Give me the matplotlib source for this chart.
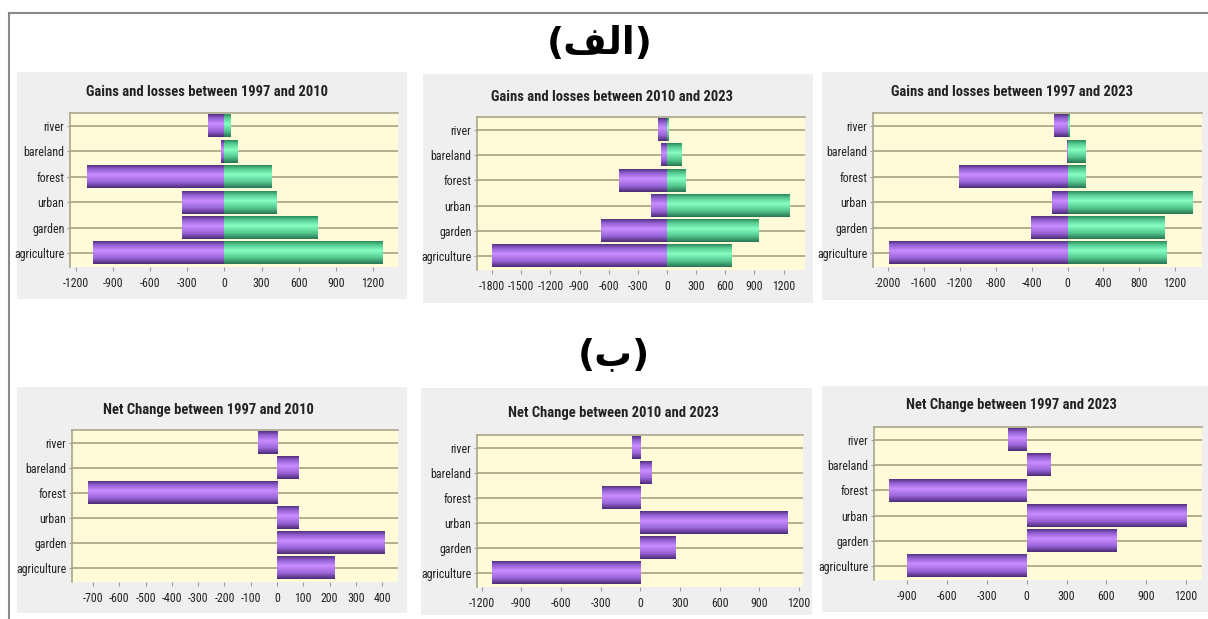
import numpy as np
import matplotlib
matplotlib.use('Agg')
import matplotlib.pyplot as plt
from matplotlib import font_manager
from matplotlib.colors import LinearSegmentedColormap
from matplotlib.patches import Rectangle
from matplotlib.lines import Line2D
from matplotlib.transforms import Bbox, TransformedBbox

# prefer a narrow face for the labels
installed = {f.name for f in font_manager.fontManager.ttflist}
narrow = next((n for n in ['Liberation Sans Narrow', 'Roboto Condensed', 'Open Sans Condensed',
                           'Noto Sans Condensed', 'Roboto', 'Liberation Sans'] if n in installed),
              'DejaVu Sans')
plt.rcParams['font.family'] = [narrow, 'DejaVu Sans']
plt.rcParams['axes.unicode_minus'] = False

# land-use classes, bottom to top
categories = ['agriculture', 'garden', 'urban', 'forest', 'bareland', 'river']

gains_97_10 = [1275, 757, 424, 384, 107, 54]
losses_97_10 = [-1060, -344, -344, -1109, -27, -129]
gains_10_23 = [665, 943, 1258, 189, 151, 14]
losses_10_23 = [-1800, -679, -165, -490, -62, -89]
gains_97_23 = [1097, 1075, 1384, 190, 190, 15]
losses_97_23 = [-1996, -403, -175, -1216, -7, -149]

net_97_10 = [218, 410, 83, -719, 83, -73]
net_10_23 = [-1123, 270, 1112, -292, 90, -62]
net_97_23 = [-903, 677, 1200, -1034, 174, -141]

W, H = 1208, 619
fig = plt.figure(figsize=(W / 100, H / 100), dpi=100)
fig.patch.set_facecolor('white')


def fig_box(x0, y0, x1, y1):
    # pixel box (top-left origin) -> figure fraction [left, bottom, width, height]
    return [x0 / W, 1 - y1 / H, (x1 - x0) / W, (y1 - y0) / H]


purple = LinearSegmentedColormap.from_list(
    'purple', [(0, '#55307f'), (0.15, '#8d5ccc'), (0.42, '#c98dff'),
               (0.75, '#9864d6'), (1, '#4c2a74')])
green = LinearSegmentedColormap.from_list(
    'green', [(0, '#2a8a5c'), (0.15, '#55c98f'), (0.42, '#86ffc4'),
              (0.75, '#52c48c'), (1, '#287552')])
shade = np.linspace(0, 1, 64).reshape(-1, 1)


def shaded_barh(ax, values, cmap):
    bars = ax.barh(np.arange(len(values)), values, height=0.9,
                   color='none', linewidth=0)
    for b in bars:
        x, y, w, h = b.get_x(), b.get_y(), b.get_width(), b.get_height()
        ax.imshow(shade, cmap=cmap, aspect='auto', interpolation='bilinear',
                  extent=(x, x + w, y, y + h), zorder=2)


def panel(gray, box, title_xy, title, series, xlim, xticks):
    gx = fig_box(*gray)
    fig.add_artist(Rectangle((gx[0], gx[1]), gx[2], gx[3], transform=fig.transFigure,
                             facecolor='#efefef', edgecolor='none', zorder=-1))
    ax = fig.add_axes(fig_box(*box))
    ax.set_facecolor('#fffbd9')
    for vals, cmap in series:
        shaded_barh(ax, vals, cmap)
    ax.set_xlim(xlim)
    ax.set_ylim(-0.55, 5.5)
    ax.set_xticks(xticks, [str(t) for t in xticks])
    ax.set_yticks(range(len(categories)), categories)
    for y in range(len(categories)):
        ax.axhline(y, color='#b4ae8e', lw=1.4, zorder=1)
    for side in ['right', 'bottom']:
        ax.spines[side].set_visible(False)
    for side in ['left', 'top']:
        ax.spines[side].set_color('#aaa68c')
        ax.spines[side].set_linewidth(1.2)
    ax.tick_params(axis='x', length=3, pad=4, color='#9a9a9a',
                   labelsize=8.6, labelcolor='#222222')
    ax.tick_params(axis='y', length=2.5, pad=1.5, color='#9a9a9a',
                   labelsize=8.6, labelcolor='#222222')
    clip = TransformedBbox(Bbox.from_bounds(*gx), fig.transFigure)
    for lab in ax.get_xticklabels():
        lab.set_clip_box(clip)
        lab.set_clip_on(True)
    fig.text(title_xy[0] / W, 1 - title_xy[1] / H, title, ha='center', va='center',
             fontsize=10.5, fontweight='bold', color='#222222')
    return ax


panel((17, 72, 407, 299), (70, 113, 398, 267), (207, 92),
      'Gains and losses between 1997 and 2010',
      [(losses_97_10, purple), (gains_97_10, green)],
      (-1245, 1400), list(range(-1200, 1201, 300)))
panel((423, 74, 813, 303), (477, 117, 805, 270), (612, 97),
      'Gains and losses between 2010 and 2023',
      [(losses_10_23, purple), (gains_10_23, green)],
      (-1955, 1420), list(range(-1800, 1201, 300)))
panel((822, 72, 1208, 300), (873, 113, 1202, 267), (1012, 92),
      'Gains and losses between 1997 and 2023',
      [(losses_97_23, purple), (gains_97_23, green)],
      (-2170, 1500), list(range(-2000, 1201, 400)))

panel((17, 387, 407, 613), (72, 430, 398, 582), (208, 410),
      'Net Change between 1997 and 2010',
      [(net_97_10, purple)], (-780, 460), list(range(-700, 401, 100)))
panel((421, 388, 812, 615), (477, 435, 803, 587), (613, 413),
      'Net Change between 2010 and 2023',
      [(net_10_23, purple)], (-1235, 1230), list(range(-1200, 1201, 300)))
panel((822, 386, 1208, 612), (874, 427, 1202, 580), (1011, 405),
      'Net Change between 1997 and 2023',
      [(net_97_23, purple)], (-1150, 1320), list(range(-900, 1201, 300)))

# outer frame (top and left edges)
fig.add_artist(Line2D([9 / W, 1], [1 - 13 / H, 1 - 13 / H], transform=fig.transFigure,
                      color='#8a8a8a', lw=1.5))
fig.add_artist(Line2D([9 / W, 9 / W], [0, 1 - 13 / H], transform=fig.transFigure,
                      color='#8a8a8a', lw=1.5))

# section labels (alef-lam-feh, beh)
fig.text(600 / W, 1 - 44 / H, '(\uFED2\uFEDF\uFE8D)', ha='center', va='center',
         fontsize=27, fontweight='bold', family=['DejaVu Sans'], color='black')
fig.text(614 / W, 1 - 355 / H, '(\u0628)', ha='center', va='center',
         fontsize=27, fontweight='bold', family=['DejaVu Sans'], color='black')

fig.savefig('out.png', dpi=100)
